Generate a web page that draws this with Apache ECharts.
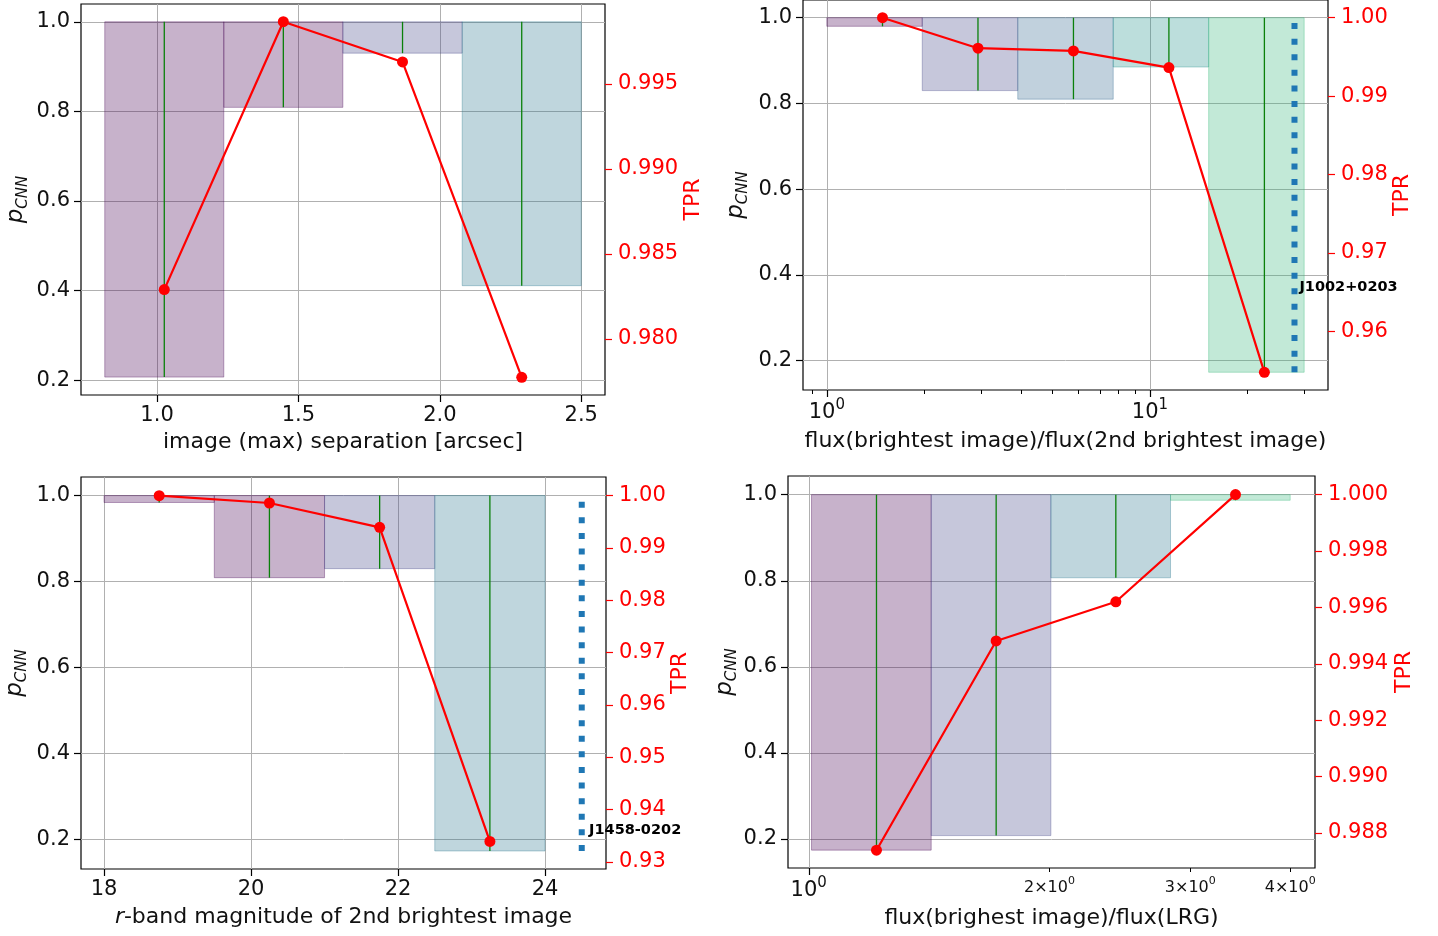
<!doctype html>
<html>
<head>
<meta charset="UTF-8">
<title>pCNN / TPR per bin</title>
<script src="https://cdn.jsdelivr.net/npm/echarts@6/dist/echarts.min.js"></script>
<style>
    html, body { margin: 0; padding: 0; background: #fff; }
    #main { width: 1438px; height: 936px; }
</style>
</head>
<body>
<div id="main"></div>
<script type="text/javascript">
    // ---- panel 1 : image (max) separation ----
    var sepEdges = [0.815, 1.236, 1.657, 2.079, 2.5];
    var sepLow = [0.207, 0.809, 0.930, 0.411];
    var sepTpr = [0.9829, 0.99866, 0.99629, 0.97774];
    var sepTicks = [1.0, 1.5, 2.0, 2.5];
    var sepTprTicks = [0.980, 0.985, 0.990, 0.995];

    // ---- panel 2 : flux ratio brightest / 2nd brightest ----
    var ratioEdges = [1, 1.974, 3.898, 7.696, 15.19, 30];
    var ratioLow = [0.980, 0.830, 0.810, 0.885, 0.1726];
    var ratioTpr = [1.0, 0.99611, 0.99576, 0.99364, 0.95475];
    var ratioTicks = [1, 10];
    var ratioMinor = [0.9, 2, 3, 4, 5, 6, 7, 8, 9, 20, 30];
    var ratioTprTicks = [0.96, 0.97, 0.98, 0.99, 1.00];
    var ratioLens = {name: 'J1002+0203', x: 28, low: 0.1726, textX: 29, textY: 0.37};

    // ---- panel 3 : r-band magnitude of 2nd brightest image ----
    var magEdges = [18, 19.5, 21, 22.5, 24];
    var magLow = [0.984, 0.809, 0.830, 0.173];
    var magTpr = [1.0, 0.9986, 0.99394, 0.9339];
    var magTicks = [18, 20, 22, 24];
    var magTprTicks = [0.93, 0.94, 0.95, 0.96, 0.97, 0.98, 0.99, 1.00];
    var magLens = {name: 'J1458-0202', x: 24.5, low: 0.173, textX: 24.6, textY: 0.221};

    // ---- panel 4 : flux(brightest image)/flux(LRG) ----
    var lrgEdges = [1.008, 1.4227, 2.008, 2.834, 4.0];
    var lrgLow = [0.1742, 0.208, 0.807, 0.987];
    var lrgTpr = [0.98739, 0.99481, 0.99620, 1.0];
    var lrgTicks = [1];
    var lrgMinor = [2, 3, 4];
    var lrgTprTicks = [0.988, 0.990, 0.992, 0.994, 0.996, 0.998, 1.000];

    var pTicks = [0.2, 0.4, 0.6, 0.8, 1.0];

    // viridis-ish fills (alpha applied below)
    var V0 = '68,1,84', V1 = '65,68,135', V2 = '49,104,142', V3 = '42,120,142', V4 = '33,145,140', V5 = '53,183,121';

    var FONT = 'DejaVu Sans';
    var INK = '#111';
    var TICK_FS = 21;
    var NAME_FS = 22;

    function binData(edges, low) {
        var out = [];
        for (var i = 0; i < low.length; i++) out.push([edges[i], edges[i + 1], low[i], 1.0]);
        return out;
    }

    function tprData(edges, tpr) {
        var out = [];
        for (var i = 0; i < tpr.length; i++) out.push([(edges[i] + edges[i + 1]) / 2, tpr[i]]);
        return out;
    }

    function renderBins(colors) {
        return function (params, api) {
            var x0 = api.value(0), x1 = api.value(1), lo = api.value(2), hi = api.value(3);
            var a = api.coord([x0, hi]);
            var b = api.coord([x1, lo]);
            var m = api.coord([(x0 + x1) / 2, lo]);
            var c = colors[params.dataIndex];
            return {
                type: 'group',
                children: [
                    {
                        type: 'rect',
                        shape: {x: a[0], y: a[1], width: b[0] - a[0], height: b[1] - a[1]},
                        style: {fill: 'rgba(' + c + ',0.30)', stroke: 'rgba(' + c + ',0.35)', lineWidth: 1}
                    },
                    {
                        type: 'line',
                        shape: {x1: m[0], y1: b[1], x2: m[0], y2: a[1]},
                        style: {stroke: '#0a800a', lineWidth: 1.3}
                    }
                ]
            };
        };
    }

    var supRich = {
        b: {fontSize: TICK_FS, fontFamily: FONT, color: INK, lineHeight: 25, verticalAlign: 'bottom'},
        s: {fontSize: 15, fontFamily: FONT, color: INK, lineHeight: 12, verticalAlign: 'top'},
        sb: {fontSize: 16, fontFamily: FONT, color: INK, lineHeight: 20, verticalAlign: 'bottom'},
        ss: {fontSize: 11, fontFamily: FONT, color: INK, lineHeight: 10, verticalAlign: 'top'}
    };

    var nameRich = {
        p: {fontSize: 23, fontFamily: FONT, fontStyle: 'italic', color: INK, lineHeight: 26, verticalAlign: 'top'},
        c: {fontSize: 15, fontFamily: FONT, fontStyle: 'italic', color: INK, lineHeight: 15, verticalAlign: 'bottom'},
        i: {fontSize: NAME_FS, fontFamily: FONT, fontStyle: 'italic', color: INK},
        n: {fontSize: NAME_FS, fontFamily: FONT, color: INK}
    };

    var grids = [], xAxes = [], yAxes = [], series = [];

    function addPanel(p) {
        var g = grids.length;
        grids.push({
            left: p.box[0], top: p.box[1], width: p.box[2], height: p.box[3],
            show: true, borderColor: '#000', borderWidth: 1.2, backgroundColor: 'transparent'
        });

        var xi = xAxes.length;
        xAxes.push({
            gridIndex: g,
            type: p.log ? 'log' : 'value',
            logBase: 10,
            position: 'bottom',
            min: p.xRange[0], max: p.xRange[1],
            splitNumber: 4,
            name: p.xName, nameLocation: 'middle', nameGap: p.xGap,
            nameTextStyle: {fontSize: NAME_FS, fontFamily: FONT, color: INK, rich: nameRich},
            axisLine: {show: false},
            axisTick: {customValues: p.xTicks, length: 7, lineStyle: {color: '#000', width: 1.2}},
            axisLabel: {
                customValues: p.xTicks, margin: p.log ? 8 : 10,
                fontSize: TICK_FS, fontFamily: FONT, color: INK,
                formatter: p.xFmt, rich: supRich
            },
            splitLine: {show: true, lineStyle: {color: '#b0b0b0', width: 1}}
        });
        if (p.minor) {
            xAxes.push({
                gridIndex: g, type: 'log', logBase: 10, position: 'bottom', offset: 0,
                min: p.xRange[0], max: p.xRange[1],
                axisLine: {show: false},
                axisTick: {customValues: p.minor, length: 4, lineStyle: {color: '#000', width: 1}},
                axisLabel: p.minorFmt ? {
                    customValues: p.minor, margin: 8, fontSize: 16, fontFamily: FONT, color: INK,
                    formatter: p.minorFmt, rich: supRich
                } : {show: false},
                splitLine: {show: false}
            });
        }

        var yl = yAxes.length;
        yAxes.push({
            gridIndex: g, type: 'value', position: 'left',
            min: p.yRange[0], max: p.yRange[1],
            name: '{p|p}{c|CNN}', nameLocation: 'middle', nameRotate: 90, nameGap: p.pGap,
            nameTextStyle: {rich: nameRich},
            axisLine: {show: false},
            axisTick: {customValues: pTicks, length: 7, lineStyle: {color: '#000', width: 1.2}},
            axisLabel: {
                customValues: pTicks, margin: 11, fontSize: TICK_FS, fontFamily: FONT, color: INK,
                formatter: function (v) { return v.toFixed(1); }
            },
            splitLine: {show: true, lineStyle: {color: '#b0b0b0', width: 1}}
        });
        var yr = yAxes.length;
        yAxes.push({
            gridIndex: g, type: 'value', position: 'right',
            min: p.tRange[0], max: p.tRange[1],
            name: 'TPR', nameLocation: 'middle', nameRotate: 90, nameGap: p.tGap,
            nameTextStyle: {fontSize: NAME_FS, fontFamily: FONT, color: '#ff0000'},
            axisLine: {show: false},
            axisTick: {customValues: p.tTicks, length: 7, lineStyle: {color: '#ff0000', width: 1.2}},
            axisLabel: {
                customValues: p.tTicks, margin: 13, fontSize: TICK_FS, fontFamily: FONT, color: '#ff0000',
                formatter: function (v) { return v.toFixed(p.tDec); }
            },
            splitLine: {show: false}
        });

        series.push({
            type: 'custom', xAxisIndex: xi, yAxisIndex: yl,
            renderItem: renderBins(p.colors),
            encode: {x: [0, 1], y: [2, 3]},
            data: binData(p.edges, p.low),
            z: 2
        });
        series.push({
            type: 'line', xAxisIndex: xi, yAxisIndex: yr,
            data: tprData(p.edges, p.tpr),
            symbol: 'circle', symbolSize: 11,
            itemStyle: {color: '#ff0000'},
            lineStyle: {color: '#ff0000', width: 2.2},
            z: 5
        });
        if (p.lens) {
            series.push({
                type: 'line', xAxisIndex: xi, yAxisIndex: yl,
                data: [[p.lens.x, p.lens.low], [p.lens.x, 1.0]],
                symbol: 'none',
                lineStyle: {color: '#1f77b4', width: 6, type: [6, 9.6], cap: 'butt'},
                z: 6
            });
            series.push({
                type: 'custom', xAxisIndex: xi, yAxisIndex: yl,
                data: [[p.lens.textX, p.lens.textY]],
                renderItem: function (params, api) {
                    var pt = api.coord([api.value(0), api.value(1)]);
                    return {
                        type: 'text', x: pt[0], y: pt[1],
                        style: {
                            text: p.lens.name, fill: '#000',
                            font: 'bold 14.5px "DejaVu Sans"',
                            textAlign: 'left', textVerticalAlign: 'middle',
                            align: 'left', verticalAlign: 'middle'
                        }
                    };
                },
                z: 7
            });
        }
    }

    addPanel({
        box: [81, 4, 524, 391],
        xRange: [0.731, 2.584], yRange: [0.167, 1.0397], tRange: [0.9767, 0.9997],
        edges: sepEdges, low: sepLow, tpr: sepTpr,
        colors: [V0, V0, V1, V3],
        xTicks: sepTicks, xFmt: function (v) { return v.toFixed(1); },
        tTicks: sepTprTicks, tDec: 3,
        xName: 'image (max) separation [arcsec]', xGap: 36, pGap: 50, tGap: 74
    });

    addPanel({
        box: [803, -1, 525, 391], log: true,
        xRange: [0.844, 35.55], yRange: [0.1312, 1.0414], tRange: [0.9525, 1.00226],
        edges: ratioEdges, low: ratioLow, tpr: ratioTpr,
        colors: [V0, V1, V2, V4, V5],
        xTicks: ratioTicks, xFmt: function (v) { return '{b|10}{s|' + Math.round(Math.log10(v)) + '}'; },
        minor: ratioMinor,
        tTicks: ratioTprTicks, tDec: 2,
        lens: ratioLens,
        xName: 'flux(brightest image)/flux(2nd brightest image)', xGap: 40, pGap: 52, tGap: 61
    });

    addPanel({
        box: [81, 477, 525, 392],
        xRange: [17.686, 24.83], yRange: [0.131, 1.0433], tRange: [0.92862, 1.00357],
        edges: magEdges, low: magLow, tpr: magTpr,
        colors: [V0, V0, V1, V3],
        xTicks: magTicks, xFmt: function (v) { return String(Math.round(v)); },
        tTicks: magTprTicks, tDec: 2,
        lens: magLens,
        xName: '{i|r}{n|-band magnitude of 2nd brightest image}', xGap: 37, pGap: 51, tGap: 59
    });

    addPanel({
        box: [788, 476, 527, 392], log: true,
        xRange: [0.942, 4.296], yRange: [0.1327, 1.0434], tRange: [0.98676, 1.00066],
        edges: lrgEdges, low: lrgLow, tpr: lrgTpr,
        colors: [V0, V1, V3, V5],
        xTicks: lrgTicks, xFmt: function (v) { return '{b|10}{s|' + Math.round(Math.log10(v)) + '}'; },
        minor: lrgMinor, minorFmt: function (v) { return '{sb|' + Math.round(v) + '\u00d710}{ss|0}'; },
        tTicks: lrgTprTicks, tDec: 3,
        xName: 'flux(brighest image)/flux(LRG)', xGap: 39, pGap: 42, tGap: 78
    });

    var myChart = echarts.init(document.getElementById('main'));
    option = {
        backgroundColor: '#fff',
        animation: false,
        textStyle: {fontFamily: FONT},
        grid: grids,
        xAxis: xAxes,
        yAxis: yAxes,
        series: series
    };
    myChart.setOption(option);
</script>
</body>
</html>
